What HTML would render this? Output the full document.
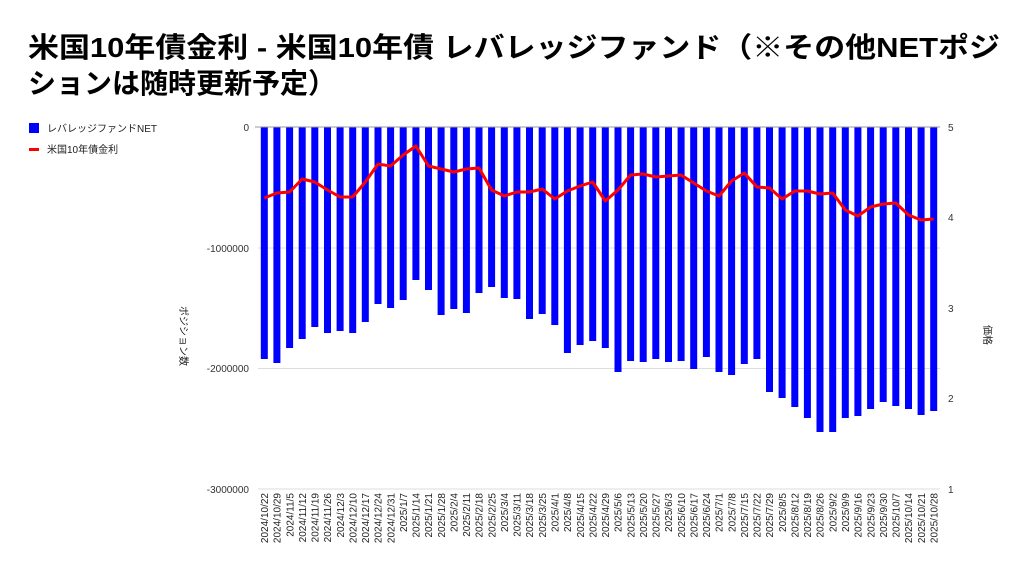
<!DOCTYPE html>
<html><head><meta charset="utf-8"><style>
html,body{margin:0;padding:0;background:#fff;}
svg{display:block;font-family:"Liberation Sans","Noto Sans CJK JP",sans-serif;}
</style></head><body>
<svg width="1024" height="578" viewBox="0 0 1024 578" xmlns="http://www.w3.org/2000/svg">
<text x="28" y="57" font-size="28" font-weight="bold" fill="#000" textLength="972" lengthAdjust="spacingAndGlyphs">米国10年債金利 - 米国10年債 レバレッジファンド（※その他NETポジ</text>
<text x="28" y="93" font-size="28" font-weight="bold" fill="#000">ションは随時更新予定）</text>
<rect x="29" y="123" width="10" height="10" fill="#0000ff"/>
<text x="47" y="132" font-size="10" fill="#222">レバレッジファンドNET</text>
<rect x="29" y="148" width="10" height="3" fill="#ff0000"/>
<text x="47" y="153" font-size="10" fill="#222">米国10年債金利</text>
<g stroke="#ddd" stroke-width="1">
<line x1="258" y1="248" x2="940" y2="248"/>
<line x1="258" y1="368.5" x2="940" y2="368.5"/>
<line x1="258" y1="489" x2="940" y2="489"/>
</g>
<g font-size="10" fill="#333" text-anchor="end">
<text x="249" y="131">0</text>
<text x="249" y="252">-1000000</text>
<text x="249" y="372">-2000000</text>
<text x="249" y="493">-3000000</text>
</g>
<g font-size="10" fill="#333">
<text x="948" y="131">5</text>
<text x="948" y="221">4</text>
<text x="948" y="312">3</text>
<text x="948" y="402">2</text>
<text x="948" y="493">1</text>
</g>
<text transform="translate(180,336) rotate(90)" font-size="10" fill="#222" text-anchor="middle">ポジション数</text>
<text transform="translate(984,335) rotate(90)" font-size="10" fill="#222" text-anchor="middle">価格</text>
<g fill="#0000ff">
<rect x="260.8" y="127" width="7" height="232"/>
<rect x="273.4" y="127" width="7" height="236"/>
<rect x="286.1" y="127" width="7" height="221"/>
<rect x="298.7" y="127" width="7" height="212"/>
<rect x="311.3" y="127" width="7" height="200"/>
<rect x="324.0" y="127" width="7" height="206"/>
<rect x="336.6" y="127" width="7" height="204"/>
<rect x="349.2" y="127" width="7" height="206"/>
<rect x="361.8" y="127" width="7" height="195"/>
<rect x="374.5" y="127" width="7" height="177"/>
<rect x="387.1" y="127" width="7" height="181"/>
<rect x="399.7" y="127" width="7" height="173"/>
<rect x="412.4" y="127" width="7" height="153"/>
<rect x="425.0" y="127" width="7" height="163"/>
<rect x="437.6" y="127" width="7" height="188"/>
<rect x="450.3" y="127" width="7" height="182"/>
<rect x="462.9" y="127" width="7" height="186"/>
<rect x="475.5" y="127" width="7" height="166"/>
<rect x="488.1" y="127" width="7" height="160"/>
<rect x="500.8" y="127" width="7" height="171"/>
<rect x="513.4" y="127" width="7" height="172"/>
<rect x="526.0" y="127" width="7" height="192"/>
<rect x="538.7" y="127" width="7" height="187"/>
<rect x="551.3" y="127" width="7" height="198"/>
<rect x="563.9" y="127" width="7" height="226"/>
<rect x="576.6" y="127" width="7" height="218"/>
<rect x="589.2" y="127" width="7" height="214"/>
<rect x="601.8" y="127" width="7" height="221"/>
<rect x="614.5" y="127" width="7" height="245"/>
<rect x="627.1" y="127" width="7" height="234"/>
<rect x="639.7" y="127" width="7" height="235"/>
<rect x="652.3" y="127" width="7" height="232"/>
<rect x="665.0" y="127" width="7" height="235"/>
<rect x="677.6" y="127" width="7" height="234"/>
<rect x="690.2" y="127" width="7" height="242"/>
<rect x="702.9" y="127" width="7" height="230"/>
<rect x="715.5" y="127" width="7" height="245"/>
<rect x="728.1" y="127" width="7" height="248"/>
<rect x="740.8" y="127" width="7" height="237"/>
<rect x="753.4" y="127" width="7" height="232"/>
<rect x="766.0" y="127" width="7" height="265"/>
<rect x="778.6" y="127" width="7" height="271"/>
<rect x="791.3" y="127" width="7" height="280"/>
<rect x="803.9" y="127" width="7" height="291"/>
<rect x="816.5" y="127" width="7" height="305"/>
<rect x="829.2" y="127" width="7" height="305"/>
<rect x="841.8" y="127" width="7" height="291"/>
<rect x="854.4" y="127" width="7" height="289"/>
<rect x="867.1" y="127" width="7" height="282"/>
<rect x="879.7" y="127" width="7" height="275"/>
<rect x="892.3" y="127" width="7" height="279"/>
<rect x="905.0" y="127" width="7" height="282"/>
<rect x="917.6" y="127" width="7" height="288"/>
<rect x="930.2" y="127" width="7" height="284"/>
</g>
<line x1="255" y1="127" x2="940" y2="127" stroke="#999" stroke-width="1"/>
<polyline fill="none" stroke="#ff0000" stroke-width="3" stroke-linejoin="round" points="264.3,198 276.9,193 289.6,192 302.2,179 314.8,182 327.5,190 340.1,197 352.7,197 365.3,182 378.0,164 390.6,166 403.2,155 415.9,146 428.5,166 441.1,169 453.8,172 466.4,169 479.0,168 491.6,190 504.3,196 516.9,192 529.5,192 542.2,189 554.8,199 567.4,191 580.1,186 592.7,182 605.3,201 618.0,190 630.6,175 643.2,174 655.8,177 668.5,176 681.1,175 693.7,183 706.4,191 719.0,196 731.6,181 744.3,173 756.9,187 769.5,188 782.1,199 794.8,191 807.4,191 820.0,194 832.7,193 845.3,210 857.9,216 870.6,207 883.2,204 895.8,203 908.5,215 921.1,220 933.7,219"/>
<g font-size="10" fill="#222" text-anchor="end">
<text transform="translate(268,493) rotate(-90)">2024/10/22</text>
<text transform="translate(280.6,493) rotate(-90)">2024/10/29</text>
<text transform="translate(293.3,493) rotate(-90)">2024/11/5</text>
<text transform="translate(305.9,493) rotate(-90)">2024/11/12</text>
<text transform="translate(318.5,493) rotate(-90)">2024/11/19</text>
<text transform="translate(331.2,493) rotate(-90)">2024/11/26</text>
<text transform="translate(343.8,493) rotate(-90)">2024/12/3</text>
<text transform="translate(356.4,493) rotate(-90)">2024/12/10</text>
<text transform="translate(369.0,493) rotate(-90)">2024/12/17</text>
<text transform="translate(381.7,493) rotate(-90)">2024/12/24</text>
<text transform="translate(394.3,493) rotate(-90)">2024/12/31</text>
<text transform="translate(406.9,493) rotate(-90)">2025/1/7</text>
<text transform="translate(419.6,493) rotate(-90)">2025/1/14</text>
<text transform="translate(432.2,493) rotate(-90)">2025/1/21</text>
<text transform="translate(444.8,493) rotate(-90)">2025/1/28</text>
<text transform="translate(457.5,493) rotate(-90)">2025/2/4</text>
<text transform="translate(470.1,493) rotate(-90)">2025/2/11</text>
<text transform="translate(482.7,493) rotate(-90)">2025/2/18</text>
<text transform="translate(495.3,493) rotate(-90)">2025/2/25</text>
<text transform="translate(508.0,493) rotate(-90)">2025/3/4</text>
<text transform="translate(520.6,493) rotate(-90)">2025/3/11</text>
<text transform="translate(533.2,493) rotate(-90)">2025/3/18</text>
<text transform="translate(545.9,493) rotate(-90)">2025/3/25</text>
<text transform="translate(558.5,493) rotate(-90)">2025/4/1</text>
<text transform="translate(571.1,493) rotate(-90)">2025/4/8</text>
<text transform="translate(583.8,493) rotate(-90)">2025/4/15</text>
<text transform="translate(596.4,493) rotate(-90)">2025/4/22</text>
<text transform="translate(609.0,493) rotate(-90)">2025/4/29</text>
<text transform="translate(621.7,493) rotate(-90)">2025/5/6</text>
<text transform="translate(634.3,493) rotate(-90)">2025/5/13</text>
<text transform="translate(646.9,493) rotate(-90)">2025/5/20</text>
<text transform="translate(659.5,493) rotate(-90)">2025/5/27</text>
<text transform="translate(672.2,493) rotate(-90)">2025/6/3</text>
<text transform="translate(684.8,493) rotate(-90)">2025/6/10</text>
<text transform="translate(697.4,493) rotate(-90)">2025/6/17</text>
<text transform="translate(710.1,493) rotate(-90)">2025/6/24</text>
<text transform="translate(722.7,493) rotate(-90)">2025/7/1</text>
<text transform="translate(735.3,493) rotate(-90)">2025/7/8</text>
<text transform="translate(748.0,493) rotate(-90)">2025/7/15</text>
<text transform="translate(760.6,493) rotate(-90)">2025/7/22</text>
<text transform="translate(773.2,493) rotate(-90)">2025/7/29</text>
<text transform="translate(785.8,493) rotate(-90)">2025/8/5</text>
<text transform="translate(798.5,493) rotate(-90)">2025/8/12</text>
<text transform="translate(811.1,493) rotate(-90)">2025/8/19</text>
<text transform="translate(823.7,493) rotate(-90)">2025/8/26</text>
<text transform="translate(836.4,493) rotate(-90)">2025/9/2</text>
<text transform="translate(849.0,493) rotate(-90)">2025/9/9</text>
<text transform="translate(861.6,493) rotate(-90)">2025/9/16</text>
<text transform="translate(874.3,493) rotate(-90)">2025/9/23</text>
<text transform="translate(886.9,493) rotate(-90)">2025/9/30</text>
<text transform="translate(899.5,493) rotate(-90)">2025/10/7</text>
<text transform="translate(912.2,493) rotate(-90)">2025/10/14</text>
<text transform="translate(924.8,493) rotate(-90)">2025/10/21</text>
<text transform="translate(937.4,493) rotate(-90)">2025/10/28</text>
</g>
</svg>
</body></html>
